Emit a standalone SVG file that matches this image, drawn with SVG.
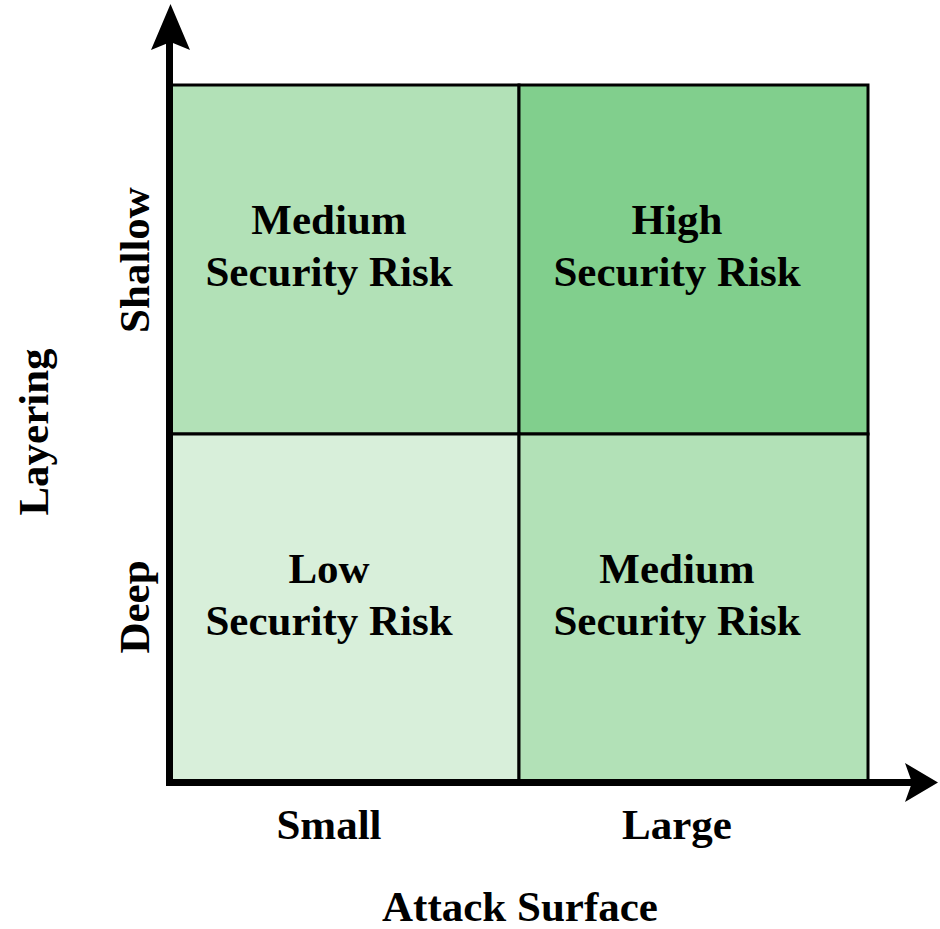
<svg xmlns="http://www.w3.org/2000/svg" width="940" height="929" viewBox="0 0 940 929">
<style>
text{font-family:"Liberation Serif","Times New Roman",serif;font-weight:bold;fill:#000;text-anchor:middle}
.t{font-size:43px}
.cell{stroke:#000;stroke-width:3}
.axis{stroke:#000;stroke-width:7;fill:none}
</style>
<rect width="940" height="929" fill="#fff"/>
<g id="cell-shallow-small"><rect class="cell" x="170" y="85" width="349" height="349" fill="#b2e1b7"/><text class="t" x="329" y="234">Medium</text><text class="t" x="329" y="286">Security Risk</text></g>
<g id="cell-shallow-large"><rect class="cell" x="519" y="85" width="349" height="349" fill="#81cf8d"/><text class="t" x="677" y="234">High</text><text class="t" x="677" y="286">Security Risk</text></g>
<g id="cell-deep-small"><rect class="cell" x="170" y="434" width="349" height="348" fill="#d8efda"/><text class="t" x="329" y="583">Low</text><text class="t" x="329" y="635">Security Risk</text></g>
<g id="cell-deep-large"><rect class="cell" x="519" y="434" width="349" height="348" fill="#b2e1b7"/><text class="t" x="677" y="583">Medium</text><text class="t" x="677" y="635">Security Risk</text></g>
<g id="axes">
<path class="axis" d="M169.5 786 V40"/>
<path class="axis" d="M166 782.5 H912"/>
<path d="M170.5 4 L190 50 L170.5 42 L151 50 Z" fill="#000"/>
<path d="M938 782.5 L905 802 L912 782.5 L905 763 Z" fill="#000"/>
</g>
<g id="labels">
<text class="t" x="329" y="839">Small</text>
<text class="t" x="677" y="839">Large</text>
<text class="t" x="520" y="921">Attack Surface</text>
<text class="t" transform="translate(149 260) rotate(-90)">Shallow</text>
<text class="t" transform="translate(149 607) rotate(-90)">Deep</text>
<text class="t" transform="translate(48 432) rotate(-90)">Layering</text>
</g>
</svg>
